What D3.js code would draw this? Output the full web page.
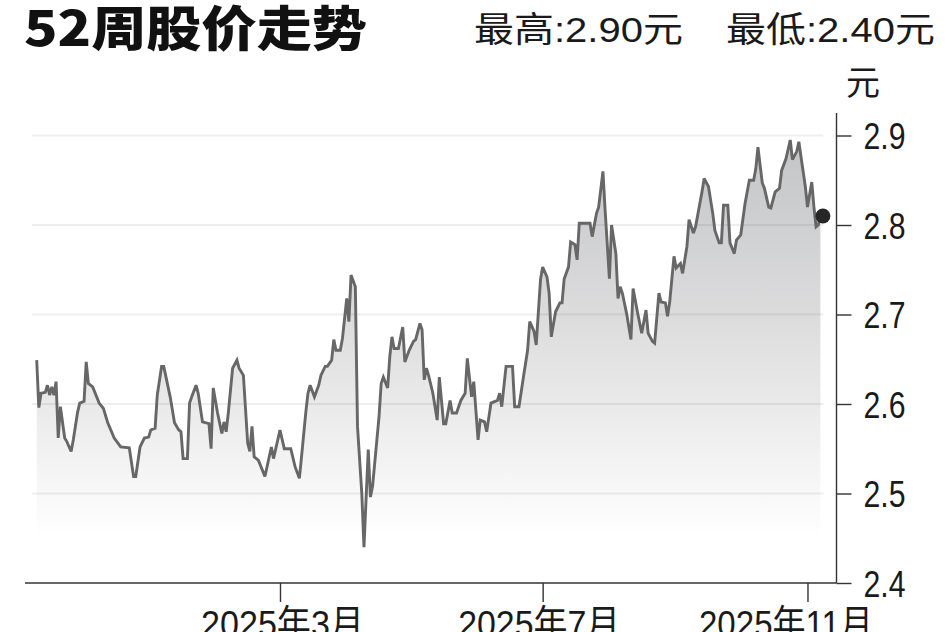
<!DOCTYPE html>
<html><head><meta charset="utf-8">
<script src="https://cdn.jsdelivr.net/npm/d3@7/dist/d3.min.js"></script>
<style>html,body{margin:0;padding:0;background:#fff;overflow:hidden}</style>
</head><body><div id="chart"></div>
<script>
const titleText = "52周股价走势";
const highText = "最高:2.90元";
const lowText = "最低:2.40元";
const unitText = "元";
const yTicks = [2.4, 2.5, 2.6, 2.7, 2.8, 2.9];
const gridTicks = [2.5, 2.6, 2.7, 2.8, 2.9];
const xTickDates = ["2025-03-01", "2025-07-01", "2025-11-01"];
const xTickLabels = ["2025年3月", "2025年7月", "2025年11月"];
const dates = [
"2024-11-08","2024-11-09","2024-11-10","2024-11-12","2024-11-13","2024-11-14","2024-11-15","2024-11-16","2024-11-17","2024-11-18","2024-11-19","2024-11-21","2024-11-22","2024-11-24","2024-11-25","2024-11-27","2024-11-28","2024-11-30",
"2024-12-01","2024-12-02","2024-12-04","2024-12-07","2024-12-09","2024-12-11","2024-12-14","2024-12-17","2024-12-21","2024-12-23","2024-12-24","2024-12-26","2024-12-28","2024-12-30","2024-12-31",
"2025-01-02","2025-01-03","2025-01-05","2025-01-06","2025-01-09","2025-01-11","2025-01-13","2025-01-14","2025-01-15","2025-01-17","2025-01-18","2025-01-19","2025-01-21","2025-01-22","2025-01-24","2025-01-27","2025-01-28","2025-01-29","2025-01-31",
"2025-02-02","2025-02-03","2025-02-04","2025-02-05","2025-02-07","2025-02-09","2025-02-10","2025-02-12","2025-02-14","2025-02-15","2025-02-16","2025-02-17","2025-02-19","2025-02-22","2025-02-25","2025-02-26",
"2025-03-01","2025-03-03","2025-03-06","2025-03-08","2025-03-10","2025-03-11","2025-03-13","2025-03-14","2025-03-15","2025-03-17","2025-03-19","2025-03-20","2025-03-22","2025-03-23","2025-03-25","2025-03-26","2025-03-27","2025-03-29","2025-03-30",
"2025-04-01","2025-04-02","2025-04-03","2025-04-05","2025-04-06","2025-04-08","2025-04-09","2025-04-11","2025-04-12","2025-04-13","2025-04-16","2025-04-17","2025-04-18","2025-04-20","2025-04-21","2025-04-22","2025-04-23","2025-04-25","2025-04-27","2025-04-28","2025-04-30",
"2025-05-02","2025-05-03","2025-05-05","2025-05-06","2025-05-07","2025-05-08","2025-05-09","2025-05-11","2025-05-13","2025-05-14","2025-05-16","2025-05-17","2025-05-19","2025-05-20","2025-05-22","2025-05-24","2025-05-26","2025-05-27","2025-05-29","2025-05-30",
"2025-06-01","2025-06-02","2025-06-04","2025-06-05","2025-06-07","2025-06-10","2025-06-11","2025-06-12","2025-06-14","2025-06-17","2025-06-18","2025-06-20","2025-06-22","2025-06-24","2025-06-25","2025-06-27","2025-06-28","2025-06-30",
"2025-07-01","2025-07-03","2025-07-04","2025-07-05","2025-07-07","2025-07-09","2025-07-10","2025-07-11","2025-07-13","2025-07-14","2025-07-16","2025-07-17","2025-07-18","2025-07-23","2025-07-24","2025-07-26","2025-07-27","2025-07-29","2025-07-30",
"2025-08-01","2025-08-02","2025-08-04","2025-08-05","2025-08-06","2025-08-07","2025-08-09","2025-08-11","2025-08-12","2025-08-14","2025-08-16","2025-08-18","2025-08-19","2025-08-21","2025-08-22","2025-08-24","2025-08-25","2025-08-27","2025-08-28","2025-08-29","2025-08-31",
"2025-09-01","2025-09-03","2025-09-04","2025-09-06","2025-09-07","2025-09-09","2025-09-10","2025-09-11","2025-09-13","2025-09-14","2025-09-16","2025-09-18","2025-09-19","2025-09-21","2025-09-22","2025-09-23","2025-09-25","2025-09-26","2025-09-28","2025-09-29",
"2025-10-01","2025-10-03","2025-10-05","2025-10-07","2025-10-08","2025-10-09","2025-10-11","2025-10-12","2025-10-14","2025-10-15","2025-10-17","2025-10-19","2025-10-20","2025-10-22","2025-10-24","2025-10-25","2025-10-27","2025-10-28","2025-10-29","2025-10-31",
"2025-11-01","2025-11-03","2025-11-04","2025-11-05","2025-11-06","2025-11-07"
];
const prices = [
2.649,2.596,2.612,2.613,2.621,2.610,2.619,2.610,2.625,2.562,2.597,2.562,2.558,2.547,2.560,2.591,2.601,2.603,
2.647,2.623,2.619,2.601,2.595,2.579,2.562,2.552,2.551,2.519,2.519,2.552,2.562,2.563,2.571,
2.573,2.610,2.642,2.642,2.608,2.579,2.571,2.569,2.539,2.539,2.601,2.608,2.621,2.612,2.580,2.578,2.550,2.618,2.590,
2.567,2.580,2.569,2.590,2.640,2.649,2.640,2.632,2.556,2.547,2.575,2.541,2.537,2.519,2.552,2.539,
2.571,2.550,2.550,2.530,2.517,2.541,2.591,2.612,2.621,2.608,2.621,2.632,2.642,2.642,2.649,2.672,2.660,2.660,2.673,
2.718,2.692,2.744,2.731,2.575,2.500,2.440,2.549,2.496,2.508,2.586,2.623,2.630,2.618,2.653,2.675,2.662,2.662,2.686,2.647,2.660,
2.670,2.672,2.690,2.683,2.627,2.640,2.632,2.612,2.582,2.630,2.578,2.578,2.604,2.590,2.590,2.604,2.612,2.651,2.608,2.625,
2.560,2.582,2.580,2.569,2.601,2.604,2.612,2.597,2.642,2.642,2.597,2.597,2.629,2.660,2.692,2.681,2.666,2.739,
2.753,2.742,2.724,2.675,2.703,2.713,2.713,2.740,2.753,2.781,2.778,2.761,2.802,2.802,2.787,2.813,2.820,2.860,2.817,
2.740,2.800,2.768,2.718,2.731,2.724,2.701,2.672,2.729,2.703,2.679,2.705,2.679,2.670,2.668,2.724,2.714,2.713,2.698,2.714,2.765,
2.752,2.757,2.746,2.776,2.806,2.791,2.798,2.811,2.837,2.852,2.843,2.813,2.794,2.780,2.780,2.822,2.822,2.780,2.768,2.783,
2.789,2.824,2.850,2.850,2.863,2.887,2.847,2.841,2.820,2.819,2.837,2.841,2.861,2.874,2.895,2.873,2.882,2.893,2.876,2.843,
2.820,2.848,2.820,2.798,2.800,2.810
];

const W = 948, H = 632;
const parse = d3.timeParse("%Y-%m-%d");
const data = dates.map((d, i) => ({ date: parse(d), value: prices[i] }));

const svg = d3.select("#chart").append("svg").attr("width", W).attr("height", H)
  .style("font-family", "'Liberation Sans','Noto Sans CJK SC',sans-serif");

const plotLeft = 36.7, plotRight = 820.4, axisX = 836.5, xAxisY = 583, yTop = 135.5;
const x = d3.scaleTime().domain([data[0].date, data[data.length - 1].date]).range([plotLeft, plotRight]);
const y = d3.scaleLinear().domain([2.4, 2.9]).range([xAxisY, yTop]);

// gradient
const defs = svg.append("defs");
const grad = defs.append("linearGradient").attr("id", "areaGrad")
  .attr("gradientUnits", "userSpaceOnUse").attr("x1", 0).attr("x2", 0)
  .attr("y1", y(2.9)).attr("y2", y(2.45));
grad.append("stop").attr("offset", "0%").attr("stop-color", "#c3c4c6");
grad.append("stop").attr("offset", "45%").attr("stop-color", "#dcdcdd");
grad.append("stop").attr("offset", "100%").attr("stop-color", "#ffffff");

// area
const area = d3.area().x(d => x(d.date)).y0(y(2.4)).y1(d => y(d.value));
svg.append("path").datum(data).attr("d", area).attr("fill", "url(#areaGrad)");

// grid lines
svg.append("g").selectAll("line").data(gridTicks).join("line")
  .attr("x1", 32).attr("x2", plotRight + 3)
  .attr("y1", d => y(d)).attr("y2", d => y(d))
  .attr("stroke", "rgba(0,0,0,0.065)").attr("stroke-width", 2);

// line
const line = d3.line().x(d => x(d.date)).y(d => y(d.value));
svg.append("path").datum(data).attr("d", line)
  .attr("fill", "none").attr("stroke", "#676767").attr("stroke-width", 2.9)
  .attr("stroke-linejoin", "miter").attr("stroke-miterlimit", 3);

// end dot
const last = data[data.length - 1];
svg.append("circle").attr("cx", x(last.date) + 2.5).attr("cy", y(last.value)).attr("r", 7.5).attr("fill", "#262626");

// y axis
const yAxis = d3.axisRight(y).tickValues(yTicks).tickSize(15).tickFormat(d3.format(".1f"));
const gy = svg.append("g").attr("transform", `translate(${axisX},0)`).call(yAxis);
gy.select(".domain").remove();
gy.selectAll(".tick line").attr("stroke", "#333").attr("stroke-width", 1.4);
gy.selectAll(".tick text").attr("x", 27).attr("dy", "0.36em")
  .attr("font-size", 37).attr("fill", "#1a1a1a")
  .attr("font-family", "'Liberation Sans',sans-serif")
  .attr("textLength", 42).attr("lengthAdjust", "spacingAndGlyphs");
svg.append("line").attr("x1", axisX).attr("x2", axisX).attr("y1", 113).attr("y2", xAxisY)
  .attr("stroke", "#333").attr("stroke-width", 1.4);

// x axis
const xAxis = d3.axisBottom(x).tickValues(xTickDates.map(parse)).tickSize(19)
  .tickFormat((d, i) => xTickLabels[i]);
const gx = svg.append("g").attr("transform", `translate(0,${xAxisY})`).call(xAxis);
gx.select(".domain").remove();
gx.selectAll(".tick line").attr("stroke", "#333").attr("stroke-width", 1.4);
const labelWidths = [163, 162, 174];
const labelShift = [2, -4, -22];
gx.selectAll(".tick text").attr("y", 54).attr("dy", 0)
  .attr("dx", (d, i) => labelShift[i])
  .attr("font-size", 37).attr("fill", "#1a1a1a")
  .attr("font-family", "'Liberation Sans','Noto Sans CJK SC',sans-serif")
  .attr("textLength", (d, i) => labelWidths[i]).attr("lengthAdjust", "spacingAndGlyphs");
svg.append("line").attr("x1", 25).attr("x2", axisX).attr("y1", xAxisY).attr("y2", xAxisY)
  .attr("stroke", "#333").attr("stroke-width", 1.4);

// unit
svg.append("text").attr("x", 846).attr("y", 95).attr("font-size", 34)
  .attr("font-family", "'Noto Sans CJK SC',sans-serif").attr("fill", "#1a1a1a").text(unitText);

// title
svg.append("text").attr("x", 24).attr("y", 46).attr("font-size", 48).attr("font-weight", 900)
  .attr("font-family", "'Noto Sans CJK SC',sans-serif").attr("fill", "#111")
  .attr("textLength", 343).attr("lengthAdjust", "spacingAndGlyphs").text(titleText);

// header stats
svg.append("text").attr("x", 474).attr("y", 42).attr("font-size", 35)
  .attr("font-family", "'Liberation Sans','Noto Sans CJK SC',sans-serif").attr("fill", "#1a1a1a")
  .attr("textLength", 209).attr("lengthAdjust", "spacingAndGlyphs").text(highText);
svg.append("text").attr("x", 726).attr("y", 42).attr("font-size", 35)
  .attr("font-family", "'Liberation Sans','Noto Sans CJK SC',sans-serif").attr("fill", "#1a1a1a")
  .attr("textLength", 209).attr("lengthAdjust", "spacingAndGlyphs").text(lowText);
</script></body></html>
